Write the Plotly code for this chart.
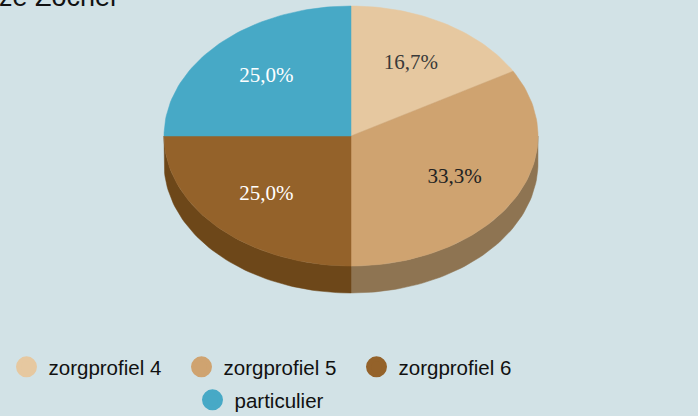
import numpy as np
import plotly.graph_objects as go

# ---- data ----
labels = ["zorgprofiel 4", "zorgprofiel 5", "zorgprofiel 6", "particulier"]
values = [16.7, 33.3, 25.0, 25.0]
pct_text = ["16,7%", "33,3%", "25,0%", "25,0%"]
colors = ["#E6C8A0", "#CFA370", "#94622A", "#47A9C6"]
side_colors = ["#A8906F", "#8E7452", "#6D4719", "#2F7C92"]
text_colors = ["#3a3a3a", "#222222", "#ffffff", "#ffffff"]
legend_rows = ["legend", "legend", "legend", "legend2"]
title_text = "ze Zocher"

# ---- geometry of the tilted pie (pixel-like axis units) ----
W, H = 698, 416
CX, CY, A, B, DEPTH = 351, 136, 187, 130, 27
LABEL_R = 0.64


def pts(t0, t1, dy=0.0, n=120):
    t = np.linspace(t0, t1, max(int(n * (t1 - t0) / np.pi) + 2, 3))
    return CX + A * np.sin(t), CY - B * np.cos(t) + dy


fig = go.Figure()

tot = float(sum(values))
bounds = []
acc = 0.0
for v in values:
    t0 = 2 * np.pi * acc / tot
    acc += v
    t1 = 2 * np.pi * acc / tot
    bounds.append((t0, t1))

# side faces (front half only)
for (t0, t1), sc in zip(bounds, side_colors):
    lo, hi = max(t0, np.pi / 2), min(t1, 3 * np.pi / 2)
    if hi <= lo:
        continue
    xt, yt = pts(lo, hi)
    xb, yb = pts(lo, hi, DEPTH)
    xs = np.concatenate([xt, xb[::-1], xt[:1]])
    ys = np.concatenate([yt, yb[::-1], yt[:1]])
    fig.add_trace(go.Scatter(x=xs, y=ys, mode="lines", fill="toself",
                             fillcolor=sc, line=dict(color=sc, width=0.5),
                             showlegend=False, hoverinfo="skip", cliponaxis=False))

# top faces
for (t0, t1), c in zip(bounds, colors):
    xa, ya = pts(t0, t1)
    xs = np.concatenate([[CX], xa, [CX]])
    ys = np.concatenate([[CY], ya, [CY]])
    fig.add_trace(go.Scatter(x=xs, y=ys, mode="lines", fill="toself",
                             fillcolor=c, line=dict(color=c, width=0.5),
                             showlegend=False, hoverinfo="skip", cliponaxis=False))

# percentage labels
mids = [(t0 + t1) / 2 for t0, t1 in bounds]
lx = [CX + A * LABEL_R * np.sin(m) for m in mids]
ly = [CY - B * LABEL_R * np.cos(m) for m in mids]
fig.add_trace(go.Scatter(x=lx, y=ly, mode="text", text=pct_text,
                         textfont=dict(family="Liberation Serif", size=21,
                                       color=text_colors),
                         showlegend=False, hoverinfo="skip"))

# legend entries
for lab, c, lg in zip(labels, colors, legend_rows):
    fig.add_trace(go.Scatter(x=[None], y=[None], mode="markers", name=lab,
                             legend=lg,
                             marker=dict(size=16, color=c,
                                         line=dict(color=c, width=5))))

fig.add_annotation(x=-3 / W, y=1 - 14 / H, xref="paper", yref="paper",
                   text=title_text, showarrow=False,
                   xanchor="left", yanchor="bottom",
                   font=dict(family="Liberation Sans", size=27, color="#111111"))

legend_font = dict(family="Liberation Sans", size=20.5, color="#111111")
fig.update_layout(
    width=W, height=H,
    margin=dict(l=0, r=0, t=0, b=0, autoexpand=False),
    paper_bgcolor="#D2E2E6", plot_bgcolor="#D2E2E6",
    xaxis=dict(range=[0, W], visible=False, fixedrange=True),
    yaxis=dict(range=[H, 0], visible=False, fixedrange=True),
    hovermode=False,
    showlegend=True,
    legend=dict(orientation="h", x=4.5 / W, xanchor="left", y=1 - 347 / H,
                yanchor="top", bgcolor="rgba(0,0,0,0)", font=legend_font,
                itemwidth=34, entrywidth=126),
    legend2=dict(orientation="h", x=190.5 / W, xanchor="left", y=1 - 380 / H,
                 yanchor="top", bgcolor="rgba(0,0,0,0)", font=legend_font,
                 itemwidth=34),
)

fig.write_html("out.html",
               config={"displayModeBar": False},
               post_script="document.body.style.margin='0';"
                           "document.body.style.background='#D2E2E6';")
